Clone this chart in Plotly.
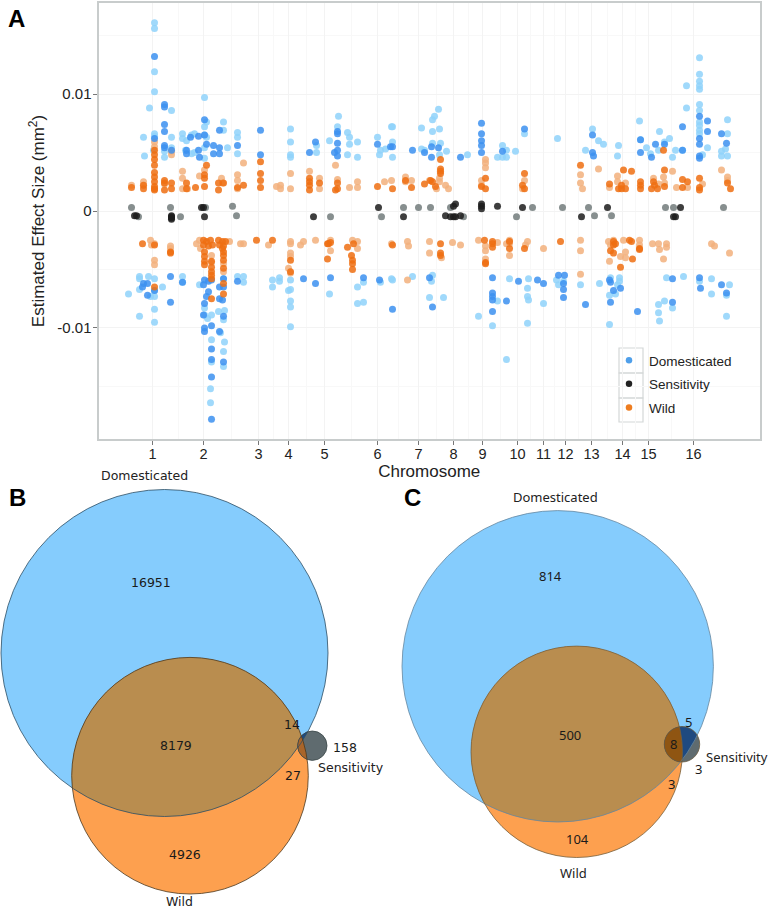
import numpy as np
import plotly.graph_objects as go

# Panel A: (position along genome, effect size in 1e-4 mm2), pale = single hit, strong = repeated hits
dom_pale = [(56,161),(56,156),(56,119),(56,102),(51,88),(73,86),(106,97),(45,63),(46,47),(56,66),(56,64),(55,52),(66,46),(66,51),
    (73,63),(73,54),(84,66),(84,62),(88,60),(93,65),(96,66),(87,52),(93,49),(96,50),(106,72),(108,76),(106,65),(108,63),(106,54),(106,45),
    (125,76),(125,69),(129,54),(139,63),(139,67),(139,49),(192,70),(192,59),(192,48),(192,46),(218,56),(218,50),(231,60),(240,81),
    (249,67),(251,63),(251,57),(259,59),(259,46),(249,48),(239,72),(279,63),(282,52),(281,48),(287,53),(293,72),
    (294,72),(294,59),(294,46),(323,71),(334,68),(334,78),(336,81),(340,87),(341,70),(323,53),(326,52),(334,58),(342,58),(341,48),(348,51),
    (369,48),(399,46),(404,56),(408,52),(404,46),(408,46),(417,51),(426,66),(459,62),(487,52),(494,70),(500,60),(505,57),(520,56),(519,47),
    (541,77),(542,61),(548,54),(552,49),(561,68),(560,52),(566,59),(571,62),(574,46),(577,52),(588,88),(588,107),(584,52),
    (601,131),(601,117),(601,111),(601,107),(601,104),(601,91),(601,86),(601,76),(601,73),(601,69),(601,66),(604,48),(609,54),
    (629,78),(629,66),(623,51),(623,47),(629,47),(627,53),
    (30,-71),(41,-56),(41,-58),(50,-56),(56,-58),(41,-67),(56,-68),(64,-65),(52,-73),(56,-73),(56,-84),(41,-90),(56,-95),(84,-56),(84,-61),
    (101,-63),(106,-83),(106,-89),(109,-92),(113,-89),(113,-110),(113,-129),(112,-152),(112,-164),(125,-58),(126,-85),(120,-86),(125,-93),
    (126,-112),(125,-120),(125,-133),(122,-104),(139,-56),(145,-56),(145,-61),(174,-59),(181,-57),(181,-60),(174,-65),(190,-68),(192,-67),
    (192,-59),(192,-77),(192,-82),(192,-99),(231,-71),(259,-65),(265,-61),(259,-79),(265,-78),(282,-61),(293,-58),
    (294,-59),(314,-56),(334,-55),(333,-60),(331,-74),(345,-74),(380,-90),(399,-77),(394,-98),(408,-127),(411,-58),(430,-58),(429,-66),
    (429,-73),(430,-76),(445,-79),(429,-96),(458,-59),(460,-63),(465,-60),(482,-63),(501,-62),(512,-57),(511,-72),(517,-71),(519,-63),
    (521,-57),(521,-60),(511,-97),(560,-80),(566,-77),(560,-87),(561,-94),(574,-83),(568,-57),(585,-56),(601,-60),(613,-58),(613,-71),
    (628,-72),(628,-90),(631,-63)]
dom_strong = [(56,132),(66,91),(66,89),(66,74),(66,68),(66,56),(66,54),(73,52),(88,49),(88,52),(92,63),(100,64),(100,52),(101,46),(106,78),
    (106,65),(108,57),(115,56),(115,49),(121,54),(121,49),(121,69),(139,56),(162,69),(162,48),(211,50),(217,59),(239,68),(239,66),(239,58),
    (239,52),(236,50),(239,47),(279,57),(292,55),(56,62),
    (294,55),(314,52),(326,50),(333,55),(333,46),(340,54),(362,46),(383,75),(383,66),(383,60),(383,56),(383,50),(404,51),(426,70),(494,65),
    (494,50),(495,47),(542,50),(542,61),(553,46),(557,57),(566,57),(584,72),(584,52),(601,81),(601,62),(601,57),(601,47),(601,45),(609,77),
    (609,68),(623,66),(628,58),
    (72,-56),(45,-62),(49,-62),(44,-65),(49,-72),(56,-68),(72,-78),(84,-61),(106,-59),(105,-63),(110,-60),(113,-59),(110,-69),(108,-73),
    (106,-79),(105,-89),(106,-100),(106,-103),(113,-98),(113,-118),(113,-127),(113,-142),(113,-178),(121,-65),(125,-65),(121,-75),(124,-76),
    (125,-58),(125,-90),(121,-103),(125,-129),(139,-60),(205,-58),(217,-62),(232,-57),(265,-57),(281,-59),
    (294,-84),(331,-57),(334,-82),(394,-57),(394,-70),(394,-73),(394,-76),(394,-86),(408,-77),(420,-60),(439,-59),(445,-62),(460,-55),
    (466,-55),(465,-62),(465,-67),(465,-74),(487,-80),(511,-59),(512,-61),(515,-68),(522,-66),(512,-78),(539,-86),(574,-58),(574,-78),
    (601,-57),(602,-66),(623,-63),(628,-70)]
sens_pale = [(33,3),(72,3),(107,3),(134,4),(138,-4),(40,-5),(82,-5),(232,-5),(283,-5),(305,3),(320,3),(332,3),(418,-5),(434,3),(464,3),
    (490,3),(496,-4),(513,-4),(567,3),(575,3),(625,3),(352,3),(365,-5)]
sens_strong = [(36,-4),(38,-4),(73,-4),(73,-6),(73,-7),(73,-5),(103,3),(105,3),(106,-5),(215,-5),(280,3),(305,-5),(347,-4),(352,-5),(355,-5),
    (357,-5),(357,6),(355,4),(383,6),(383,4),(383,2),(399,4),(424,3),(483,-5),(509,3),(575,-5),(577,-5),(582,3),(362,-4)]
wild_pale = [(33,22),(45,25),(45,22),(56,59),(56,55),(66,23),(73,51),(73,48),(84,34),(84,28),(84,19),(89,19),(101,30),(106,35),(123,28),(124,24),
    (139,31),(139,26),(139,19),(145,41),(178,21),(182,22),(182,19),(192,32),(192,19),(211,34),(221,28),(221,19),(237,39),(239,27),(251,20),
    (259,25),(259,20),(286,25),(293,26),
    (307,29),(307,25),(313,26),(331,26),(341,28),(341,25),(347,22),(350,19),(338,19),(383,26),(383,22),(387,44),(387,41),(387,37),(426,26),
    (424,19),(500,36),(482,31),(482,24),(484,19),(519,30),(519,25),(527,24),(555,28),(560,23),(565,29),(574,34),(566,24),(578,20),(589,20),
    (604,23),(623,35),(629,29),(629,26),(511,20),
    (52,-25),(56,-28),(53,-29),(72,-30),(72,-32),(56,-42),(56,-46),(98,-28),(101,-25),(102,-32),(113,-38),(113,-44),(125,-52),(125,-45),
    (131,-26),(142,-28),(145,-28),(170,-29),(192,-26),(192,-28),(192,-36),(192,-39),(190,-49),(192,-53),(202,-29),(205,-26),(217,-25),
    (232,-25),(232,-34),(254,-25),(259,-26),(259,-32),(293,-28),
    (309,-26),(310,-30),(331,-26),(331,-36),(343,-40),(354,-27),(362,-29),(380,-25),(387,-30),(387,-34),(387,-41),(399,-27),(408,-28),
    (411,-25),(411,-28),(411,-38),(429,-26),(427,-29),(445,-32),(482,-25),(482,-34),(482,-54),(309,-59),(510,-26),(512,-29),(511,-43),
    (515,-25),(525,-25),(522,-39),(527,-35),(527,-40),(541,-25),(541,-29),(554,-28),(560,-28),(561,-33),(568,-28),(568,-31),(565,-41),
    (613,-28),(616,-30),(631,-36)]
wild_strong = [(33,20),(45,22),(45,19),(56,52),(56,48),(56,44),(56,39),(56,33),(56,29),(56,25),(56,21),(56,18),(56,19),(66,26),(66,24),(66,18),
    (73,24),(73,19),(88,24),(88,19),(97,20),(106,31),(106,28),(108,39),(106,21),(120,24),(120,18),(125,24),(139,20),(145,22),(162,42),(162,32),
    (162,26),(162,20),(211,28),(211,25),(211,22),(211,18),(221,24),(239,24),(239,19),(237,18),(279,21),
    (294,19),(307,26),(313,20),(326,23),(332,26),(334,25),(337,21),(342,44),(342,36),(342,34),(342,32),(387,28),(383,21),(387,19),(426,32),
    (424,22),(426,19),(482,39),(511,23),(525,35),(533,34),(520,19),(523,22),(523,19),(527,19),(542,25),(542,22),(542,19),(553,19),(555,25),
    (556,22),(559,19),(566,35),(566,21),(565,52),(584,27),(589,25),(584,20),(601,28),(601,20),(601,18),(629,24),(632,19),
    (44,-28),(56,-29),(72,-35),(72,-36),(105,-25),(108,-26),(112,-25),(105,-29),(110,-30),(114,-29),(106,-35),(106,-39),(106,-43),(106,-46),
    (113,-43),(113,-48),(113,-52),(113,-55),(113,-58),(120,-25),(124,-26),(127,-26),(121,-29),(125,-30),(125,-35),(125,-38),(125,-42),(125,-49),
    (124,-32),(158,-25),(174,-25),(192,-42),(192,-52),(229,-28),(232,-27),(230,-28),(229,-41),(249,-31),(255,-28),(253,-38),(254,-42),(254,-45),
    (254,-50),(125,-62),(125,-71),(113,-75),(56,-65),
    (294,-29),(342,-28),(342,-36),(342,-38),(386,-25),(387,-44),(387,-45),(394,-26),(394,-28),(394,-31),(411,-26),(411,-32),(426,-32),(462,-26),
    (512,-34),(515,-36),(515,-26),(515,-29),(517,-28),(522,-48),(531,-25),(533,-26),(534,-41),(541,-32),(541,-33)]

chrom_pos = [54, 105, 160, 190, 226, 279, 320, 355, 384, 419, 445, 467, 493, 524, 550, 595]
chrom_labels = ['1','2','3','4','5','6','7','8','9','10','11','12','13','14','15','16']

# Panels B and C: Venn counts
venn_b_counts = ['16951', '8179', '14', '27', '158', '4926']
venn_c_counts = ['814', '500', '5', '8', '3', '3', '104']
set_names = ['Domesticated', 'Sensitivity', 'Wild']

W, H = 772, 909
VENN_TOP = 465
fig = go.Figure()

def add_points(points, colour):
    xs, ys = zip(*points)
    fig.add_trace(go.Scatter(x=xs, y=ys, mode='markers', showlegend=False, hoverinfo='skip',
                             marker=dict(size=7, color=colour, opacity=0.85, line=dict(width=0))))

add_points(dom_pale, '#8fd2fa')
add_points(wild_pale, '#f2b07c')
add_points(sens_pale, '#727b7b')
add_points(dom_strong, '#3c90f0')
add_points(wild_strong, '#ee6e12')
add_points(sens_strong, '#1c1c1c')

# legend only entries
for name, colour in zip(set_names, ['#4f9fea', '#222222', '#ee7d20']):
    fig.add_trace(go.Scatter(x=[None], y=[None], mode='markers', name=name, legendgroup=name,
                             marker=dict(size=6.5, color=colour)))

minor_x = [(a + b) / 2 for a, b in zip(chrom_pos[:-1], chrom_pos[1:])]

def circle(c, fill, line, width=0.8):
    return dict(type='circle', xref='x2', yref='y2', x0=c[0]-c[2], x1=c[0]+c[2], y0=c[1]-c[2], y1=c[1]+c[2],
                fillcolor=fill, line=dict(color=line, width=width))

def lens(c1, c2, fill):
    # intersection of two circles as a polygon
    t = np.linspace(0, 2*np.pi, 720)
    p1 = np.c_[c1[0] + c1[2]*np.cos(t), c1[1] + c1[2]*np.sin(t)]
    p2 = np.c_[c2[0] + c2[2]*np.cos(t), c2[1] + c2[2]*np.sin(t)]
    p1 = p1[np.hypot(p1[:,0]-c2[0], p1[:,1]-c2[1]) <= c2[2]]
    p2 = p2[np.hypot(p2[:,0]-c1[0], p2[:,1]-c1[1]) <= c1[2]]
    pts = np.r_[p1, p2]
    mid = pts.mean(axis=0)
    pts = pts[np.argsort(np.arctan2(pts[:,1]-mid[1], pts[:,0]-mid[0]))]
    path = 'M' + ' L'.join(f'{x:.2f},{y:.2f}' for x, y in pts) + ' Z'
    return dict(type='path', xref='x2', yref='y2', path=path, fillcolor=fill, line=dict(width=0))

def venn(dom, wild, sens, outline, wild_outline, sens_outline, sens_wild_fill):
    return [circle(dom, '#85ccfd', 'rgba(0,0,0,0)', 0),
            circle(wild, '#fda04f', 'rgba(0,0,0,0)', 0),
            lens(dom, wild, '#b98d4f'),
            circle(sens, '#5f6b6f', 'rgba(0,0,0,0)', 0),
            lens(sens, dom, '#1f4a80'),
            lens(sens, wild, sens_wild_fill),
            circle(dom, 'rgba(0,0,0,0)', outline),
            circle(wild, 'rgba(0,0,0,0)', wild_outline),
            circle(sens, 'rgba(0,0,0,0)', sens_outline)]

shapes = venn((164.5, 653, 163.5), (190, 775.7, 118.3), (312.3, 745.7, 14.7), '#2c4e64', '#4a3820', '#3a4648', '#a9652a')
shapes += venn((557.7, 666.3, 155.7), (576.7, 751.8, 105.7), (682, 744.3, 17.7), '#6486a0', '#76603c', '#6a5a40', '#8f5512')

# key boxes of the legend
for top, bot in [(348, 373), (373, 398), (398, 422)]:
    shapes.append(dict(type='rect', xref='paper', yref='paper', x0=619/W, x1=643/W, y0=1-bot/H, y1=1-top/H,
                       line=dict(color='#d4d8d8', width=1.2), layer='below'))

annotations = []
def label(text, x, y, size, family, colour='#1a1a1a'):
    annotations.append(dict(text=text, x=x, y=y, xref='x2', yref='y2', showarrow=False,
                            font=dict(size=size, family=family, color=colour), xanchor='center', yanchor='middle'))

for text, x, y in zip(venn_b_counts, [151, 176, 292, 293, 345, 185], [582, 745, 724, 775, 747, 854]):
    label(text, x, y, 12.5, 'DejaVu Sans')
for text, x, y in zip(set_names, [144, 351, 179], [475, 767, 901]):
    label(text, x, y, 12.5, 'DejaVu Sans', '#222222')
for text, x, y in zip(venn_c_counts, [550, 570, 688, 673, 698, 671, 577], [576, 735, 722, 744, 769, 784, 839]):
    label(text, x, y, 13, 'Noto Sans')
for text, x, y in zip(set_names, [555, 737, 573], [497, 757, 873]):
    label(text, x, y, 13, 'Noto Sans', '#222222')

for text, x, y in [('A', 16, 18), ('B', 17, 498), ('C', 412, 498)]:
    annotations.append(dict(text=f'<b>{text}</b>', x=x/W, y=1-y/H, xref='paper', yref='paper', showarrow=False,
                            xanchor='center', yanchor='middle',
                            font=dict(size=24, family='Liberation Sans', color='black')))

fig.update_layout(
    width=W, height=H, margin=dict(l=0, r=0, t=0, b=0), autosize=False,
    paper_bgcolor='white', plot_bgcolor='rgba(0,0,0,0)',
    font=dict(family='Liberation Sans', color='#222222'),
    showlegend=True,
    legend=dict(x=609/W, y=1-345/H, xanchor='left', yanchor='top', bgcolor='rgba(0,0,0,0)', tracegroupgap=3,
                font=dict(size=13.5, family='Liberation Sans', color='#222222')),
    xaxis=dict(domain=[98.5/W, 760/W], range=[0, 661.5], anchor='y', tickmode='array', tickvals=chrom_pos, ticktext=chrom_labels,
               ticks='outside', ticklen=4, tickcolor='#777777', tickfont=dict(size=14.5, color='#222222'), ticklabelstandoff=-3,
               showgrid=True, gridcolor='#f3f3f3', gridwidth=1, zeroline=False,
               showline=True, mirror=True, linecolor='#c8cccc', linewidth=2,
               minor=dict(tickvals=minor_x, showgrid=True, gridcolor='#f8f8f8', ticks=''),
               title=dict(text='Chromosome', font=dict(size=17, color='#222222'), standoff=1)),
    yaxis=dict(domain=[1-439/H, 1-3/H], range=[-194.9, 177.8], anchor='x', tickmode='array', tickvals=[100, 0, -100], ticktext=['0.01', '0', '-0.01'],
               ticks='outside', ticklen=4, tickcolor='#777777', tickfont=dict(size=15, color='#222222'), ticklabelstandoff=-2,
               showgrid=True, gridcolor='#f3f3f3', gridwidth=1, zeroline=False,
               showline=True, mirror=True, linecolor='#c8cccc', linewidth=2,
               minor=dict(tickvals=[150, 50, -50, -150], showgrid=True, gridcolor='#f8f8f8', ticks=''),
               title=dict(text='Estimated Effect Size (mm<sup>2</sup>)', font=dict(size=17, color='#222222'), standoff=8)),
    xaxis2=dict(domain=[0, 1], range=[0, W], anchor='y2', visible=False, fixedrange=True),
    yaxis2=dict(domain=[0, 1-VENN_TOP/H], range=[H, VENN_TOP], anchor='x2', visible=False, fixedrange=True),
    shapes=shapes, annotations=annotations,
)

fig.write_html("out.html", post_script="document.body.style.margin='0';", config={'displayModeBar': False})
